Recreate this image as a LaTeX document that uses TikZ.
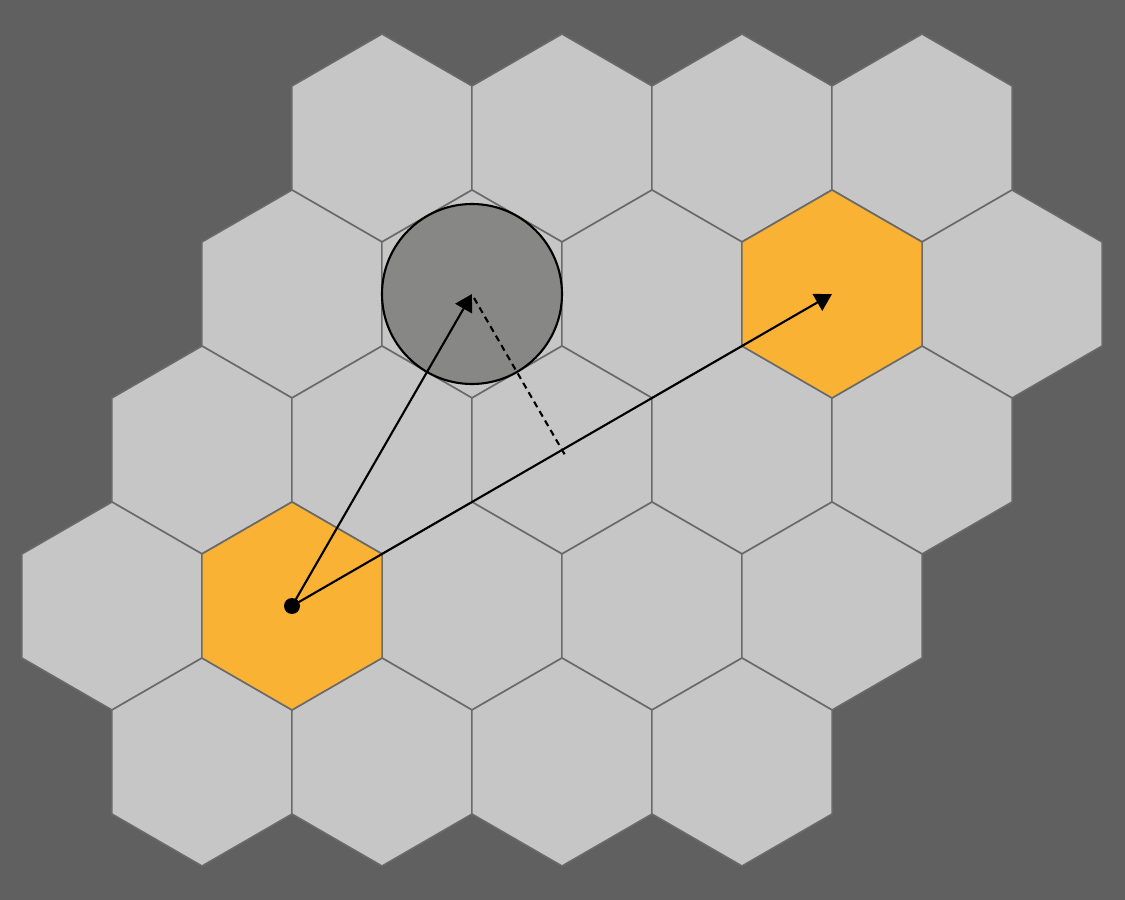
\documentclass[tikz,border=0pt]{standalone}
\usepackage{tikz}
\usepackage{xcolor}
\usetikzlibrary{arrows.meta,shapes,calc}
\definecolor{bggray}{HTML}{606060}
\definecolor{hexgray}{HTML}{C6C6C6}
\definecolor{hexedge}{HTML}{6A6A6A}
\definecolor{hexorange}{HTML}{F9B233}
\definecolor{circgray}{HTML}{878785}
\begin{document}
\begin{tikzpicture}[>={Triangle[length=4.8pt,width=5.4pt]},
hex/.style={regular polygon,regular polygon sides=6,shape border rotate=30,minimum size=2.08cm,inner sep=0pt,outer sep=0pt,draw=hexedge,fill=hexgray,line width=0.45pt},
hot/.style={hex,fill=hexorange}]
\fill[bggray](0,0)rectangle(11.25,9);
% the grid, row by row
\foreach \c in {0,...,3} \node[hex](h0\c) at (3.82+1.8*\c,7.62){};
\foreach \c in {0,...,4} \node[hex](h1\c) at (2.92+1.8*\c,6.06){};
\foreach \c in {0,...,4} \node[hex](h2\c) at (2.02+1.8*\c,4.50){};
\foreach \c in {0,...,4} \node[hex](h3\c) at (1.12+1.8*\c,2.94){};
\foreach \c in {0,...,3} \node[hex](h4\c) at (2.02+1.8*\c,1.38){};
\node[hot](goal) at (h13.center){};
\node[hot](home) at (h31.center){};
\node[circle,draw,fill=circgray,line width=0.6pt,minimum size=1.8cm,inner sep=0pt](circ) at (h11.center){};
\node[circle,fill=black,inner sep=0pt,minimum size=0.16cm](dot) at (home.center){};
\coordinate (foot) at ($(dot.center)!(circ.center)!(goal.center)$);
\draw[line width=0.6pt,dash pattern=on 1.8pt off 1.3pt]($(circ.center)+(0.02,-0.04)$)--($(circ.center)!1.03!(foot)$);
\draw[->,line width=0.6pt](dot.center)--(circ.center);
\draw[->,line width=0.6pt](dot.center)--(goal.center);
\end{tikzpicture}
\end{document}
